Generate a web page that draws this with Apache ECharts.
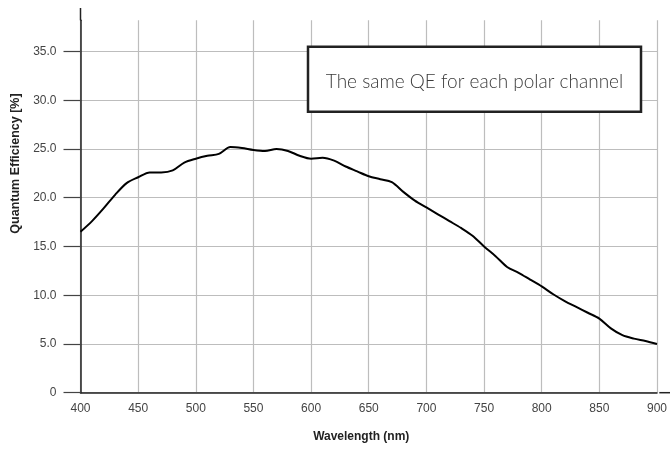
<!DOCTYPE html>
<html>
<head>
<meta charset="utf-8">
<script src="https://cdn.jsdelivr.net/npm/echarts@6/dist/echarts.min.js"></script>
<style>html,body{margin:0;padding:0;background:#fff;}#c{width:670px;height:455px;}</style>
</head>
<body>
<div id="c"></div>
<script>
const wavelengths = [400,410,420,430,440,450,460,470,480,490,500,510,520,530,540,550,560,570,580,590,600,610,620,630,640,650,660,670,680,690,700,710,720,730,740,750,760,770,780,790,800,810,820,830,840,850,860,870,880,890,900];
const qe = [16.5,17.6,18.9,20.3,21.5,22.1,22.6,22.6,22.8,23.6,24.0,24.3,24.5,25.2,25.1,24.9,24.8,25.0,24.8,24.3,24.0,24.1,23.8,23.2,22.7,22.2,21.9,21.6,20.6,19.7,19.0,18.3,17.6,16.9,16.1,15.0,14.0,12.9,12.3,11.6,10.9,10.1,9.4,8.8,8.2,7.6,6.6,5.9,5.55,5.3,5.0];
const yTicks = [0,5,10,15,20,25,30,35];
const xTitle = 'Wavelength (nm)';
const yTitle = 'Quantum Efficiency [%]';
const note = 'The same QE for each polar channel';

const chart = echarts.init(document.getElementById('c'), null, {renderer:'canvas'});
const gridL = 80.5, gridR = 10.7, gridT = 20.3, gridB = 62.3;
chart.setOption({
  animation:false,
  backgroundColor:'#fff',
  grid:{left:gridL,right:gridR,top:gridT,bottom:gridB,containLabel:false},
  xAxis:{
    type:'value',min:400,max:900,interval:50,
    name:xTitle,nameLocation:'middle',nameGap:38,
    nameTextStyle:{fontFamily:'Liberation Sans',fontSize:12,fontWeight:'bold',color:'#222',padding:[0,15,0,0]},
    axisLine:{show:true,lineStyle:{color:'#222',width:1.5}},
    axisTick:{show:false},
    axisLabel:{fontFamily:'Liberation Sans',fontSize:12,color:'#444',margin:10},
    splitLine:{show:true,lineStyle:{color:'#bdbdbd',width:1.2}}
  },
  yAxis:{
    type:'value',min:0,max:38.2,interval:5,
    name:yTitle,nameLocation:'middle',nameGap:56,nameRotate:90,
    nameTextStyle:{fontFamily:'Liberation Sans',fontSize:12.5,fontWeight:'bold',color:'#222',padding:[0,0,0,86]},
    axisLine:{show:true,lineStyle:{color:'#222',width:1.5}},
    axisTick:{show:true,length:17,customValues:yTicks,lineStyle:{color:'#444',width:1.2}},
    axisLabel:{fontFamily:'Liberation Sans',fontSize:12,color:'#444',margin:24,customValues:yTicks,
      formatter:v=> v===0 ? '0' : v.toFixed(1)},
    splitLine:{show:true,lineStyle:{color:'#bdbdbd',width:1.2}}
  },
  series:[{
    type:'line',data:wavelengths.map((w,i)=>[w,qe[i]]),
    smooth:0.3,showSymbol:false,
    lineStyle:{color:'#000',width:2},
    z:5
  }],
  graphic:[
    {type:'line',shape:{x1:gridL,y1:8,x2:gridL,y2:gridT},style:{stroke:'#222',lineWidth:1.5},z:10},
    {type:'line',shape:{x1:670-gridR,y1:455-gridB,x2:670,y2:455-gridB},style:{stroke:'#222',lineWidth:1.5},z:10},
    {type:'rect',shape:{x:308,y:46.7,width:333,height:65},style:{fill:'#fff',stroke:'#222',lineWidth:2.5},z:20},
    {type:'text',x:474.5,y:82,style:{text:note,fontFamily:'Lato',fontWeight:300,fontSize:19,fill:'#3a3a3a',align:'center',verticalAlign:'middle'},z:21}
  ]
});
</script>
</body>
</html>
